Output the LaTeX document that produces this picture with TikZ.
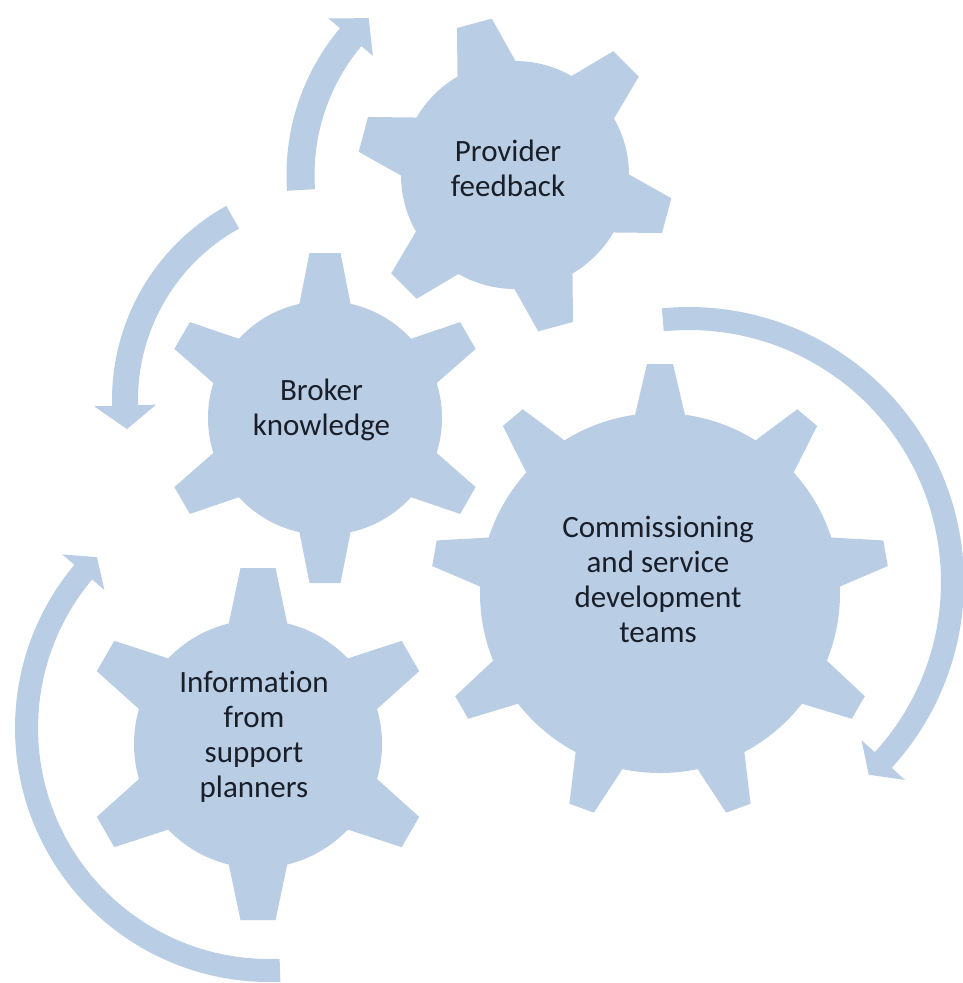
\documentclass[tikz,border=0pt]{standalone}
\usepackage{fontspec}
\setmainfont{Carlito}[Ligatures={NoCommon}]
\definecolor{gearblue}{RGB}{185,205,228}
\definecolor{txtcol}{RGB}{25,30,40}
\tikzset{
  gearfill/.style={fill=gearblue},
  geartext/.style={align=center, text=txtcol, font={\fontsize{31}{35}\selectfont}, inner sep=0pt},
}
% gear: cx, cy, body radius, tip radius, base half width, tip half width, angle offset, teeth
\newcommand{\mygear}[8]{%
  \fill[gearfill] (#1,#2) circle[radius=#3];
  \pgfmathsetmacro{\gstep}{360/#8}%
  \pgfmathsetmacro{\gvb}{#5+(#5-#6)*12/(#4-#3)}%
  \pgfmathsetmacro{\gub}{#3-12}%
  \foreach \k in {1,...,#8}{%
    \pgfmathsetmacro{\ga}{#7+\k*\gstep}%
    \fill[gearfill, shift={(#1,#2)}, rotate={-\ga}] (\gub,-\gvb) -- (#4,-#6) -- (#4,#6) -- (\gub,\gvb) -- cycle;
  }%
}
% arc arrow: cx, cy, mid radius, width, domain from, domain to, head base angle, tip angle, head half span
\newcommand{\myarc}[9]{%
  \draw[gearblue, line width=#4pt] plot[domain=#5:#6, samples=90] ({#1+#3*cos(\x)},{#2+#3*sin(\x)});
  \fill[gearfill, shift={(#1,#2)}] (#7:{#3-#9}) -- (#8:#3) -- (#7:{#3+#9}) -- cycle;
}
\begin{document}
\begin{tikzpicture}[x=1pt, y=-1pt]
\fill[white] (0,0) rectangle (963,983);
\useasboundingbox (0,0) rectangle (963,983);
% arrows
\myarc{515}{175}{214.5}{28}{176}{221.4}{220}{227}{29}
\myarc{334}{400}{209}{26}{177.2}{241}{178.5}{172}{31}
\myarc{689}{582}{263.5}{23}{-95.7}{43.4}{42.5}{47}{29.5}
\myarc{269}{728}{242.5}{23}{87.4}{221}{220}{224.8}{27.5}
% gears
\mygear{515}{175}{114}{157}{29}{18}{15}{6}
\mygear{325}{418}{117}{165}{25}{15.5}{30}{6}
\mygear{660}{593}{180}{229}{24.5}{13}{30}{9}
\mygear{258}{744}{124}{176}{28.5}{17.5}{30}{6}
% labels
\node[geartext] (provider) at (508,168.5) {Provider\\feedback};
\node[geartext] (broker) at (321.5,410) {Broker\\knowledge};
\node[geartext] (commissioning) at (658,579.5) {Commissioning\\and service\\development\\teams};
\node[geartext] (information) at (254,737) {Information\\from\\support\\planners};
\end{tikzpicture}
\end{document}
